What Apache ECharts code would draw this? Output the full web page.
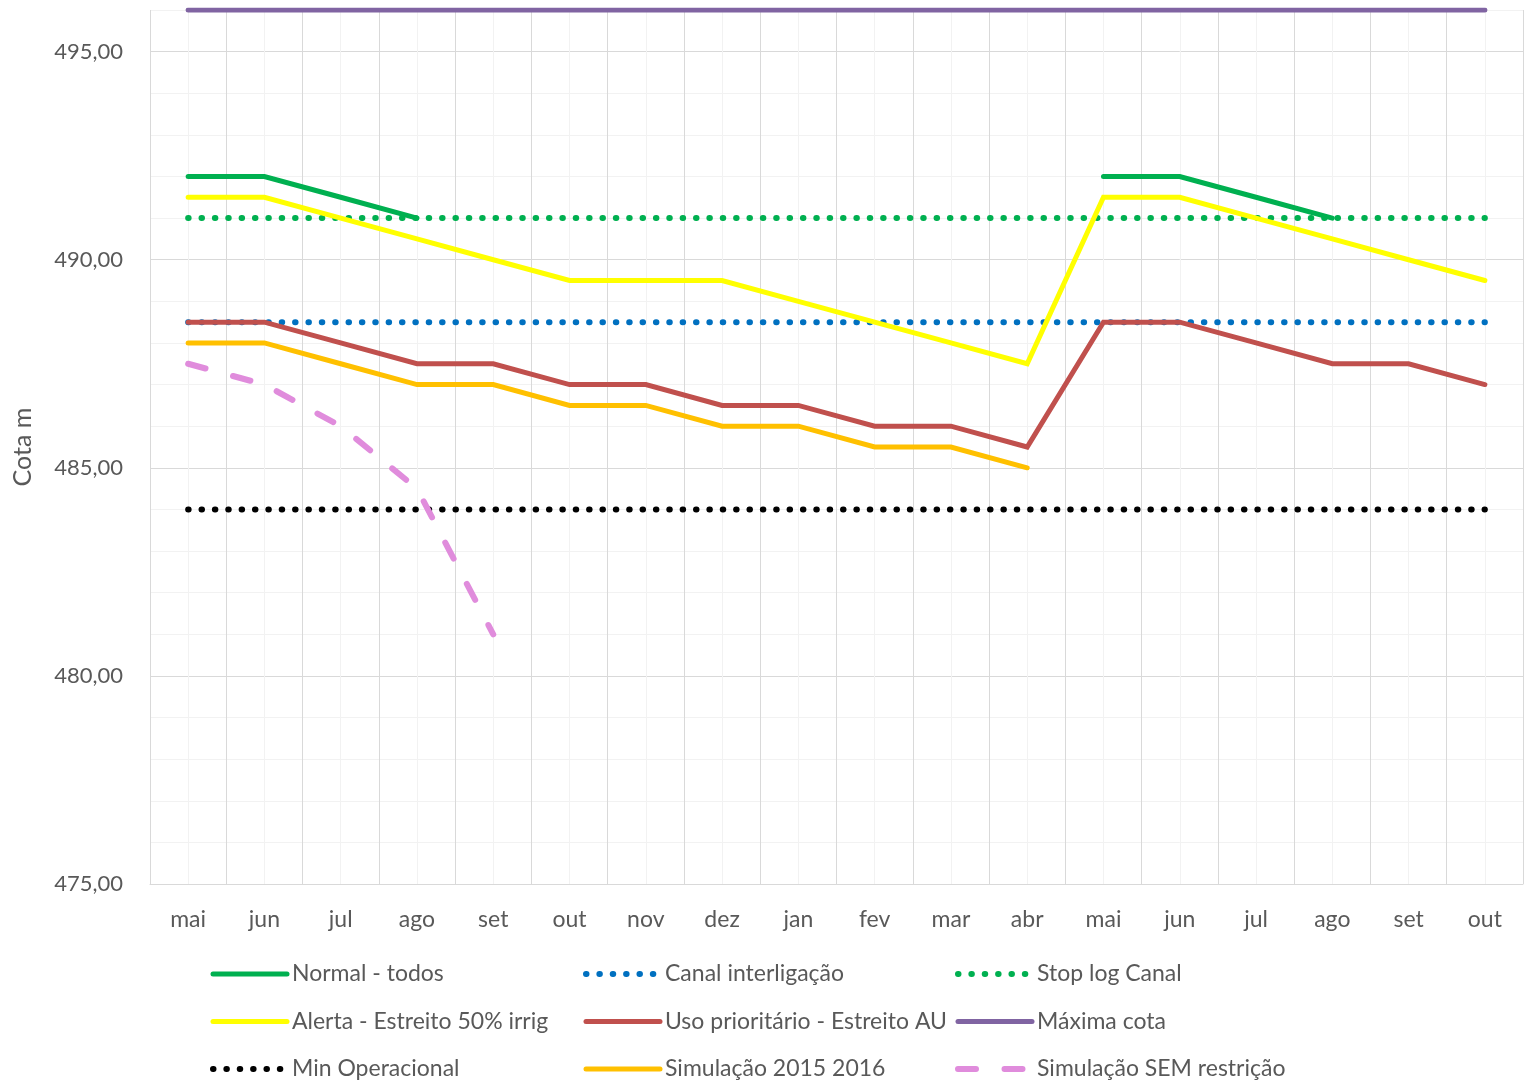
<!DOCTYPE html>
<html>
<head>
<meta charset="utf-8">
<title>Cota m</title>
<script src="https://cdn.jsdelivr.net/npm/echarts@6/dist/echarts.min.js"></script>
<style>
	html, body { margin: 0; padding: 0; background: #fff; }
	#sample { width: 1526px; height: 1084px; }
</style>
</head>
<body>
<div id="sample"></div>
<script>
// categorias (meses)
var months = ['mai','jun','jul','ago','set','out','nov','dez','jan','fev','mar','abr','mai','jun','jul','ago','set','out'];
// series
var normalTodos = [492, 492, 491.5, 491, null, null, null, null, null, null, null, null, 492, 492, 491.5, 491, null, null];
var canalInterligacao = [488.5, 488.5, 488.5, 488.5, 488.5, 488.5, 488.5, 488.5, 488.5, 488.5, 488.5, 488.5, 488.5, 488.5, 488.5, 488.5, 488.5, 488.5];
var stopLogCanal = [491, 491, 491, 491, 491, 491, 491, 491, 491, 491, 491, 491, 491, 491, 491, 491, 491, 491];
var alertaEstreito = [491.5, 491.5, 491, 490.5, 490, 489.5, 489.5, 489.5, 489, 488.5, 488, 487.5, 491.5, 491.5, 491, 490.5, 490, 489.5];
var usoPrioritario = [488.5, 488.5, 488, 487.5, 487.5, 487, 487, 486.5, 486.5, 486, 486, 485.5, 488.5, 488.5, 488, 487.5, 487.5, 487];
var maximaCota = [496, 496, 496, 496, 496, 496, 496, 496, 496, 496, 496, 496, 496, 496, 496, 496, 496, 496];
var minOperacional = [484, 484, 484, 484, 484, 484, 484, 484, 484, 484, 484, 484, 484, 484, 484, 484, 484, 484];
var simulacao2015 = [488, 488, 487.5, 487, 487, 486.5, 486.5, 486, 486, 485.5, 485.5, 485, null, null, null, null, null, null];
var simulacaoSem = [487.5, 487, 486, 484.5, 481, null, null, null, null, null, null, null, null, null, null, null, null, null];

var yMin = 475, yMax = 496;
var fontName = 'Lato';
var textColor = '#595959';
var dotted = [0.5, 12.865];
var dashed = [18, 28.5];

function lineSerie(name, data, color, type, width){
	return {
		name: name,
		type: 'line',
		data: data,
		symbol: 'none',
		showSymbol: false,
		connectNulls: false,
		lineStyle: {
			color: color,
			width: width,
			type: type,
			cap: 'round',
			join: 'miter'
		},
		itemStyle: { color: color }
	};
}

// item da legenda com a mesma espessura da linha
function legendItem(name, width){
	return { name: name, lineStyle: { width: width, cap: 'round' } };
}

// uma coluna de legenda
function legendCol(left, items){
	return {
		orient: 'vertical',
		left: left,
		top: 962,
		height: 200,
		padding: 0,
		itemWidth: 74,
		itemHeight: 24,
		itemGap: 23.5,
		selectedMode: false,
		itemStyle: { opacity: 0 },
		textStyle: { fontFamily: fontName, fontSize: 23, color: textColor, lineHeight: 24 },
		data: items
	};
}

function fmtNum(v){
	return v.toFixed(2).replace('.', ',');
}

var myChart = echarts.init(document.getElementById('sample'));
myChart.setOption({
	animation: false,
	backgroundColor: '#ffffff',
	textStyle: { fontFamily: fontName },
	grid: { left: 150, right: 3, top: 10, bottom: 200, containLabel: false },
	legend: [
		legendCol(210, [legendItem('Normal - todos', 5), legendItem('Alerta - Estreito 50% irrig', 5), legendItem('Min Operacional', 6)]),
		legendCol(583, [legendItem('Canal interligação', 6), legendItem('Uso prioritário - Estreito AU', 5), legendItem('Simulação 2015 2016', 5)]),
		legendCol(955, [legendItem('Stop log Canal', 6), legendItem('Máxima cota', 5), legendItem('Simulação SEM restrição', 6)])
	],
	xAxis: [
		{
			type: 'category',
			data: months,
			boundaryGap: true,
			axisLine: { show: true, lineStyle: { color: '#D9D9D9', width: 1 } },
			axisTick: { show: false },
			splitLine: { show: false },
			axisLabel: { interval: 0, margin: 24, color: textColor, fontSize: 23, fontFamily: fontName }
		},
		{
			// grade vertical: limites e centros das categorias
			type: 'value',
			position: 'top',
			min: 0,
			max: months.length,
			interval: 0.5,
			axisLine: { show: false },
			axisTick: { show: false },
			axisLabel: { show: false },
			splitLine: { show: true, lineStyle: { color: ['#D9D9D9', '#F2F2F2'], width: 1 } }
		}
	],
	yAxis: {
		type: 'value',
		min: yMin,
		max: yMax,
		interval: 1,
		name: 'Cota m',
		nameLocation: 'middle',
		nameRotate: 90,
		nameGap: 115,
		nameTextStyle: { color: textColor, fontSize: 25, fontFamily: fontName },
		axisLine: { show: false },
		axisTick: { show: false },
		axisLabel: {
			margin: 27,
			color: textColor,
			fontSize: 22,
			fontFamily: fontName,
			formatter: function(v){
				return (v % 5 === 0) ? fmtNum(v) : '';
			}
		},
		splitLine: { show: true, lineStyle: { color: ['#D9D9D9', '#F2F2F2', '#F2F2F2', '#F2F2F2', '#F2F2F2'], width: 1 } }
	},
	series: [
		lineSerie('Normal - todos', normalTodos, '#00B050', 'solid', 5),
		lineSerie('Canal interligação', canalInterligacao, '#0070C0', dotted, 6),
		lineSerie('Stop log Canal', stopLogCanal, '#00B050', dotted, 6),
		lineSerie('Alerta - Estreito 50% irrig', alertaEstreito, '#FFFF00', 'solid', 5),
		lineSerie('Uso prioritário - Estreito AU', usoPrioritario, '#C0504D', 'solid', 5),
		lineSerie('Máxima cota', maximaCota, '#8064A2', 'solid', 5),
		lineSerie('Min Operacional', minOperacional, '#000000', dotted, 6),
		lineSerie('Simulação 2015 2016', simulacao2015, '#FFC000', 'solid', 5),
		lineSerie('Simulação SEM restrição', simulacaoSem, '#E08CDC', dashed, 6)
	]
});
</script>
</body>
</html>
